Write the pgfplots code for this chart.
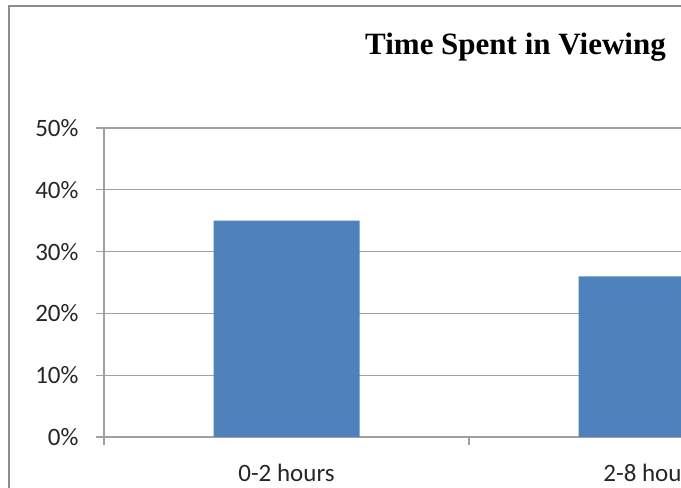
\documentclass[border=0pt]{standalone}
\usepackage{fontspec}
\setmainfont{Carlito}
\newfontfamily\titlefont{Liberation Serif}
\usepackage{pgfplots}
\pgfplotsset{compat=1.18}
\definecolor{barblue}{HTML}{4F81BD}
\definecolor{gridgray}{HTML}{A0A0A0}
\definecolor{framegray}{HTML}{8C8C8C}
\begin{document}
\begin{tikzpicture}[x=1bp,y=1bp]
\useasboundingbox (0,0) rectangle (681,488);
\clip (0,0) rectangle (681,488);
\draw[framegray, line width=2bp] (9,0) -- (9,482) -- (681,482);
\node[anchor=base west, inner sep=0pt, font=\titlefont\bfseries\fontsize{31bp}{36bp}\selectfont] at (365,433) {Time Spent in Viewing};
\begin{axis}[
  at={(104bp,51bp)}, anchor=south west,
  scale only axis,
  width=577bp, height=309bp,
  xmin=-0.5, xmax=1.0808,
  ymin=0, ymax=50,
  axis x line=bottom, axis y line=left,
  axis line style={gridgray, line width=1.2bp, -},
  x axis line style={-}, y axis line style={-},
  ytick={0,10,...,50},
  yticklabel={\pgfmathprintnumber{\tick}\%},
  ymajorgrids,
  major grid style={gridgray, line width=1.2bp},
  xtick={-0.5,0.5},
  xticklabels={},
  extra x ticks={0,1},
  extra x tick labels={0-2 hours,2-8 hours},
  extra x tick style={major tick length=0pt, xmajorgrids=false,
     tick label style={anchor=base, inner sep=0pt, yshift=-45bp}},
  tick align=outside,
  major tick length=8bp,
  tick style={gridgray, line width=1.2bp},
  /pgf/number format/assume math mode=true,
  tick label style={font=\fontsize{25bp}{30bp}\selectfont, text=black!85},
  yticklabel style={anchor=east, xshift=-14bp},
  ybar, bar width=146bp,
  clip=true,
]
\addplot[fill=barblue, draw=none] coordinates {(0,35) (1,26)};
\end{axis}
\end{tikzpicture}
\end{document}
